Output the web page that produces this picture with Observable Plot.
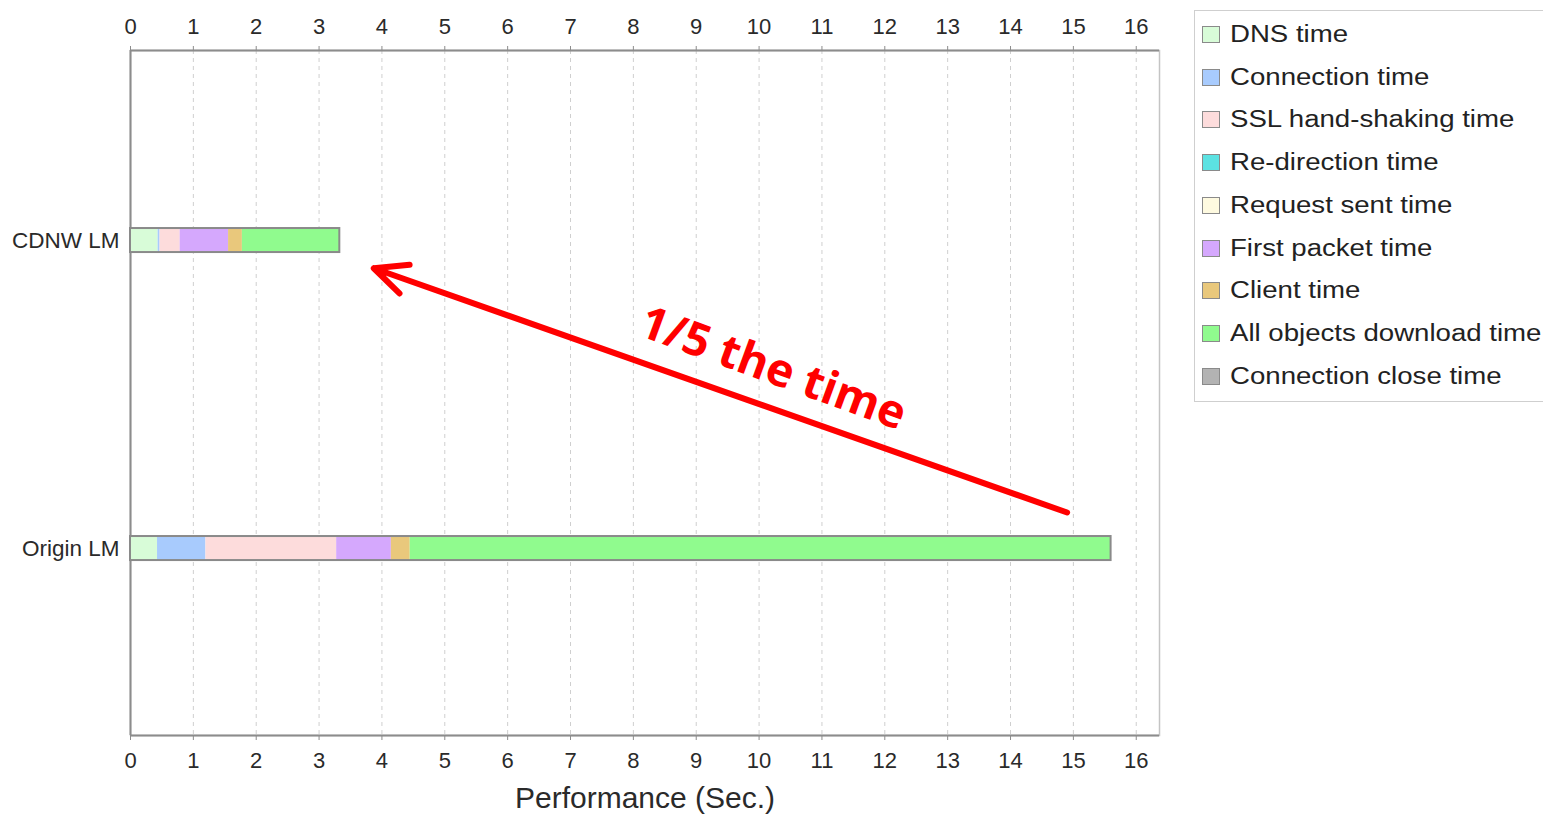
<!DOCTYPE html>
<html>
<head>
<meta charset="utf-8">
<script src="https://cdn.jsdelivr.net/npm/d3@7"></script>
<script src="https://cdn.jsdelivr.net/npm/@observablehq/plot@0.6"></script>
<style>
  body { margin: 0; background: #fff; overflow: hidden; font-family: "Liberation Sans", Arial, sans-serif; }
  #wrap { position: relative; width: 1543px; height: 816px; }
  #legend { position: absolute; left: 1194px; top: 10px; width: 420px; height: 392px;
            border: 1px solid #cfcfcf; box-sizing: border-box; background: #fff; }
  .item { position: absolute; left: 7px; height: 30px; display: flex; align-items: center; }
  .sw { width: 16px; height: 15px; border: 1px solid #8a8a8a; flex: none; }
  .lab { font-size: 23px; color: #222; margin-left: 10px; white-space: nowrap;
         transform: scaleX(1.2); transform-origin: left center; }
</style>
</head>
<body>
<div id="wrap"><div id="chart"></div><div id="legend"></div></div>
<script>
// Page-load timing breakdown for two hosts
const categories = ["CDNW LM", "Origin LM"];
const seriesNames = [
  "DNS time", "Connection time", "SSL hand-shaking time", "Re-direction time",
  "Request sent time", "First packet time", "Client time",
  "All objects download time", "Connection close time"
];
const seriesColors = [
  "#d8fcd8", "#a8cbfd", "#fddcdc", "#5ce2e2",
  "#fefae0", "#d5a8fd", "#e9c87c", "#90fb8e", "#b3b3b3"
];
// seconds per phase, same order as seriesNames
const cdnwTimes   = [0.44, 0.03, 0.32, 0, 0, 0.77, 0.22, 1.55, 0];
const originTimes = [0.43, 0.77, 2.08, 0, 0, 0.87, 0.30, 11.15, 0];
const xTicks = [0, 1, 2, 3, 4, 5, 6, 7, 8, 9, 10, 11, 12, 13, 14, 15, 16];
const xLabel = "Performance (Sec.)";

// annotation arrow (from the Origin bar back to the CDNW bar) and its note
const arrowFrom = [14.9, 0.883];
const arrowTo = [3.87, 0.09];
const noteText = "1/5 the time";
const notePos = [10.22, 0.416];

const xDomain = [0, 16.37];
const yDomain = [-0.617, 1.607];
const barHalf = 0.039;

const rows = [cdnwTimes, originTimes];
const segments = rows.flatMap((times, r) => {
  const ends = Array.from(d3.cumsum(times));
  return times
    .map((t, k) => ({row: r, series: seriesNames[k], x1: ends[k] - t, x2: ends[k]}))
    .filter(d => d.x2 > d.x1);
});
const totals = rows.map((times, r) => ({row: r, total: d3.sum(times)}));

const chart = Plot.plot({
  width: 1185,
  height: 816,
  marginLeft: 130,
  marginRight: 26,
  marginTop: 50,
  marginBottom: 81,
  x: {domain: xDomain},
  y: {domain: yDomain, reverse: true},
  color: {domain: seriesNames, range: seriesColors},
  style: {fontFamily: "'Liberation Sans', Arial, sans-serif", color: "#2a2a2a", background: "#fff"},
  marks: [
    Plot.gridX(xTicks.filter(t => t > 0), {stroke: "#cfcfcf", strokeOpacity: 1, strokeDasharray: "4,4"}),
    Plot.frame({stroke: "#c4c4c4", strokeWidth: 1.5}),
    Plot.ruleX([xDomain[0]], {stroke: "#8c8c8c", strokeWidth: 2}),
    Plot.ruleY(yDomain, {stroke: "#8c8c8c", strokeWidth: 2}),
    Plot.axisX(xTicks, {anchor: "top", tickSize: 5, tickPadding: 12, fontSize: 22, label: null, stroke: "#8c8c8c"}),
    Plot.axisX(xTicks, {anchor: "bottom", tickSize: 5, tickPadding: 12, fontSize: 22, label: null, stroke: "#8c8c8c"}),
    Plot.text([xLabel], {frameAnchor: "bottom", dy: 72, text: d => d, fontSize: 30, fill: "#2a2a2a"}),
    Plot.axisY([0, 1], {tickSize: 0, tickPadding: 11, tickFormat: i => categories[i], fontSize: 22.5, label: null}),
    Plot.rect(segments, {
      x1: "x1", x2: "x2",
      y1: d => d.row - barHalf, y2: d => d.row + barHalf,
      fill: "series"
    }),
    Plot.rect(totals, {
      x1: () => 0, x2: "total",
      y1: d => d.row - barHalf, y2: d => d.row + barHalf,
      fill: "none", stroke: "#8a8a8a", strokeWidth: 2
    }),
    Plot.arrow([{}], {
      x1: () => arrowFrom[0], y1: () => arrowFrom[1],
      x2: () => arrowTo[0], y2: () => arrowTo[1],
      stroke: "#ff0000", strokeWidth: 6, headLength: 9, headAngle: 50,
      strokeLinejoin: "round"
    }),
    Plot.text([noteText], {
      x: () => notePos[0], y: () => notePos[1], text: d => d,
      rotate: 20, fill: "#ff0000", fontSize: 46, fontWeight: "bold",
      fontFamily: "'Open Sans', Lato, sans-serif"
    })
  ]
});
document.getElementById("chart").append(chart);

// legend listing every phase with its swatch
const legend = d3.select("#legend");
seriesNames.forEach((name, i) => {
  const item = legend.append("div").attr("class", "item")
    .style("top", `${(34.5 - 11) + i * 42.7 - 15}px`);
  item.append("div").attr("class", "sw").style("background", seriesColors[i]);
  item.append("span").attr("class", "lab").text(name);
});
</script>
</body>
</html>
